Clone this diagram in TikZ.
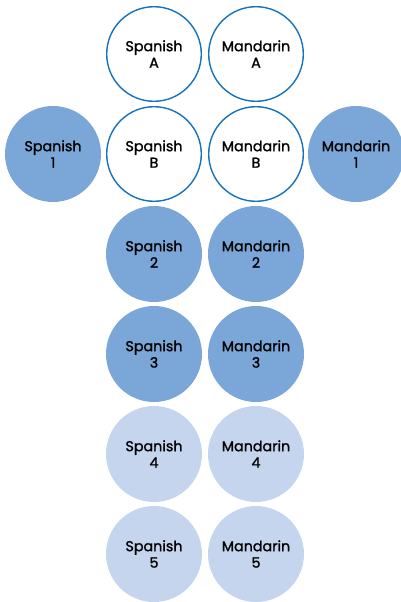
\documentclass[tikz,border=0pt]{standalone}
\usepackage{fontspec}
\setmainfont{Poppins}[FakeBold=1.3]
\usepackage{tikz}
\usetikzlibrary{positioning}
\definecolor{ringblue}{RGB}{20,114,190}
\definecolor{midblue}{RGB}{123,166,216}
\definecolor{paleblue}{RGB}{198,213,238}

\begin{document}
\begin{tikzpicture}[x=1pt,y=-1pt,
	lang/.style={circle,minimum size=96pt,inner sep=0pt,align=center,
		font=\fontsize{14.3}{16.5}\selectfont},
	ring/.style={lang,draw=ringblue,line width=1.4pt,fill=white,minimum size=94.6pt},
	dark/.style={lang,fill=midblue},
	pale/.style={lang,fill=paleblue}]
		\useasboundingbox (0,0) rectangle (401,602);
		\node[ring] (spA) at (154,54) {Spanish\\A};
		\node[ring] (mdA) at (256,54) {Mandarin\\A};
		\node[ring] (spB) at (154,154) {Spanish\\B};
		\node[ring] (mdB) at (256,154) {Mandarin\\B};
		\node[dark] (sp1) at (53,154) {Spanish\\1};
		\node[dark] (md1) at (356,154) {Mandarin\\1};
		\foreach \n/\y/\s in {2/254/dark,3/354/dark,4/454/pale,5/554/pale}{
			\node[\s] (sp\n) at (154,\y) {Spanish\\\n};
			\node[\s] (md\n) at (256,\y) {Mandarin\\\n};
		}
		\end{tikzpicture}
\end{document}
